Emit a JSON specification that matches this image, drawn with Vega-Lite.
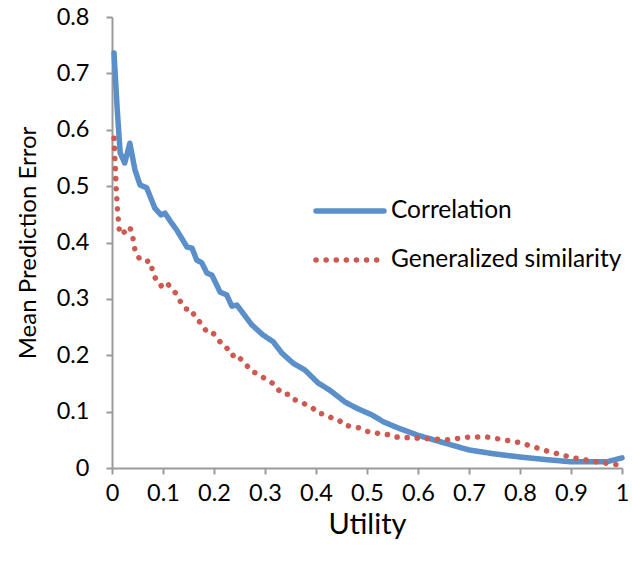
{
  "$schema": "https://vega.github.io/schema/vega-lite/v6.json",
  "width": 510,
  "height": 451,
  "autosize": "none",
  "padding": {"left": 112, "top": 17, "right": 10, "bottom": 95},
  "background": "white",
  "config": {
    "view": {"stroke": null},
    "font": "Lato",
    "axis": {
      "grid": false,
      "domainColor": "#9a9a9a",
      "domainWidth": 2,
      "tickColor": "#9a9a9a",
      "tickWidth": 2,
      "tickSize": 6,
      "labelFont": "Lato",
      "labelFontSize": 23.5,
      "labelColor": "#000000",
      "titleFont": "Lato",
      "titleFontWeight": "normal",
      "titleColor": "#000000",
      "labelFlush": false,
      "labelOverlap": false
    }
  },
  "data": {
    "values": [
      {"series": "Correlation", "u": 0.004, "v": 0.736},
      {"series": "Correlation", "u": 0.010, "v": 0.64},
      {"series": "Correlation", "u": 0.016, "v": 0.559},
      {"series": "Correlation", "u": 0.025, "v": 0.541},
      {"series": "Correlation", "u": 0.035, "v": 0.576},
      {"series": "Correlation", "u": 0.045, "v": 0.529},
      {"series": "Correlation", "u": 0.055, "v": 0.502},
      {"series": "Correlation", "u": 0.068, "v": 0.497},
      {"series": "Correlation", "u": 0.084, "v": 0.461},
      {"series": "Correlation", "u": 0.096, "v": 0.449},
      {"series": "Correlation", "u": 0.104, "v": 0.452},
      {"series": "Correlation", "u": 0.115, "v": 0.437},
      {"series": "Correlation", "u": 0.127, "v": 0.422},
      {"series": "Correlation", "u": 0.147, "v": 0.392},
      {"series": "Correlation", "u": 0.157, "v": 0.390},
      {"series": "Correlation", "u": 0.166, "v": 0.369},
      {"series": "Correlation", "u": 0.176, "v": 0.364},
      {"series": "Correlation", "u": 0.186, "v": 0.346},
      {"series": "Correlation", "u": 0.196, "v": 0.342},
      {"series": "Correlation", "u": 0.212, "v": 0.312},
      {"series": "Correlation", "u": 0.225, "v": 0.307},
      {"series": "Correlation", "u": 0.235, "v": 0.287},
      {"series": "Correlation", "u": 0.245, "v": 0.289},
      {"series": "Correlation", "u": 0.274, "v": 0.254},
      {"series": "Correlation", "u": 0.296, "v": 0.236},
      {"series": "Correlation", "u": 0.316, "v": 0.224},
      {"series": "Correlation", "u": 0.333, "v": 0.204},
      {"series": "Correlation", "u": 0.355, "v": 0.186},
      {"series": "Correlation", "u": 0.378, "v": 0.174},
      {"series": "Correlation", "u": 0.404, "v": 0.151},
      {"series": "Correlation", "u": 0.427, "v": 0.138},
      {"series": "Correlation", "u": 0.457, "v": 0.117},
      {"series": "Correlation", "u": 0.480, "v": 0.106},
      {"series": "Correlation", "u": 0.510, "v": 0.094},
      {"series": "Correlation", "u": 0.532, "v": 0.082},
      {"series": "Correlation", "u": 0.561, "v": 0.071},
      {"series": "Correlation", "u": 0.600, "v": 0.058},
      {"series": "Correlation", "u": 0.650, "v": 0.045},
      {"series": "Correlation", "u": 0.700, "v": 0.032},
      {"series": "Correlation", "u": 0.750, "v": 0.025},
      {"series": "Correlation", "u": 0.800, "v": 0.0195},
      {"series": "Correlation", "u": 0.850, "v": 0.015},
      {"series": "Correlation", "u": 0.900, "v": 0.011},
      {"series": "Correlation", "u": 0.970, "v": 0.011},
      {"series": "Correlation", "u": 1.000, "v": 0.018},
      {"series": "Generalized similarity", "u": 0.004, "v": 0.585},
      {"series": "Generalized similarity", "u": 0.006, "v": 0.541},
      {"series": "Generalized similarity", "u": 0.008, "v": 0.500},
      {"series": "Generalized similarity", "u": 0.011, "v": 0.456},
      {"series": "Generalized similarity", "u": 0.015, "v": 0.415},
      {"series": "Generalized similarity", "u": 0.025, "v": 0.419},
      {"series": "Generalized similarity", "u": 0.035, "v": 0.428},
      {"series": "Generalized similarity", "u": 0.041, "v": 0.408},
      {"series": "Generalized similarity", "u": 0.045, "v": 0.387},
      {"series": "Generalized similarity", "u": 0.055, "v": 0.369},
      {"series": "Generalized similarity", "u": 0.076, "v": 0.366},
      {"series": "Generalized similarity", "u": 0.080, "v": 0.346},
      {"series": "Generalized similarity", "u": 0.086, "v": 0.335},
      {"series": "Generalized similarity", "u": 0.096, "v": 0.323},
      {"series": "Generalized similarity", "u": 0.106, "v": 0.330},
      {"series": "Generalized similarity", "u": 0.116, "v": 0.319},
      {"series": "Generalized similarity", "u": 0.125, "v": 0.310},
      {"series": "Generalized similarity", "u": 0.135, "v": 0.294},
      {"series": "Generalized similarity", "u": 0.145, "v": 0.282},
      {"series": "Generalized similarity", "u": 0.155, "v": 0.282},
      {"series": "Generalized similarity", "u": 0.165, "v": 0.264},
      {"series": "Generalized similarity", "u": 0.175, "v": 0.257},
      {"series": "Generalized similarity", "u": 0.186, "v": 0.241},
      {"series": "Generalized similarity", "u": 0.196, "v": 0.241},
      {"series": "Generalized similarity", "u": 0.206, "v": 0.232},
      {"series": "Generalized similarity", "u": 0.216, "v": 0.218},
      {"series": "Generalized similarity", "u": 0.225, "v": 0.213},
      {"series": "Generalized similarity", "u": 0.235, "v": 0.199},
      {"series": "Generalized similarity", "u": 0.245, "v": 0.202},
      {"series": "Generalized similarity", "u": 0.255, "v": 0.190},
      {"series": "Generalized similarity", "u": 0.265, "v": 0.181},
      {"series": "Generalized similarity", "u": 0.276, "v": 0.170},
      {"series": "Generalized similarity", "u": 0.285, "v": 0.168},
      {"series": "Generalized similarity", "u": 0.296, "v": 0.161},
      {"series": "Generalized similarity", "u": 0.305, "v": 0.155},
      {"series": "Generalized similarity", "u": 0.316, "v": 0.150},
      {"series": "Generalized similarity", "u": 0.325, "v": 0.140},
      {"series": "Generalized similarity", "u": 0.335, "v": 0.131},
      {"series": "Generalized similarity", "u": 0.345, "v": 0.131},
      {"series": "Generalized similarity", "u": 0.355, "v": 0.122},
      {"series": "Generalized similarity", "u": 0.365, "v": 0.119},
      {"series": "Generalized similarity", "u": 0.375, "v": 0.115},
      {"series": "Generalized similarity", "u": 0.385, "v": 0.110},
      {"series": "Generalized similarity", "u": 0.394, "v": 0.106},
      {"series": "Generalized similarity", "u": 0.404, "v": 0.097},
      {"series": "Generalized similarity", "u": 0.414, "v": 0.096},
      {"series": "Generalized similarity", "u": 0.424, "v": 0.092},
      {"series": "Generalized similarity", "u": 0.435, "v": 0.087},
      {"series": "Generalized similarity", "u": 0.445, "v": 0.085},
      {"series": "Generalized similarity", "u": 0.455, "v": 0.076},
      {"series": "Generalized similarity", "u": 0.475, "v": 0.073},
      {"series": "Generalized similarity", "u": 0.485, "v": 0.071},
      {"series": "Generalized similarity", "u": 0.494, "v": 0.067},
      {"series": "Generalized similarity", "u": 0.504, "v": 0.064},
      {"series": "Generalized similarity", "u": 0.514, "v": 0.064},
      {"series": "Generalized similarity", "u": 0.525, "v": 0.060},
      {"series": "Generalized similarity", "u": 0.545, "v": 0.059},
      {"series": "Generalized similarity", "u": 0.557, "v": 0.055},
      {"series": "Generalized similarity", "u": 0.600, "v": 0.053},
      {"series": "Generalized similarity", "u": 0.657, "v": 0.050},
      {"series": "Generalized similarity", "u": 0.700, "v": 0.055},
      {"series": "Generalized similarity", "u": 0.735, "v": 0.055},
      {"series": "Generalized similarity", "u": 0.800, "v": 0.045},
      {"series": "Generalized similarity", "u": 0.853, "v": 0.030},
      {"series": "Generalized similarity", "u": 0.900, "v": 0.019},
      {"series": "Generalized similarity", "u": 0.950, "v": 0.011},
      {"series": "Generalized similarity", "u": 0.996, "v": 0.005}
    ]
  },
  "mark": {"type": "line", "strokeWidth": 5.5, "strokeCap": "round", "strokeJoin": "round"},
  "encoding": {
    "x": {
      "field": "u",
      "type": "quantitative",
      "scale": {"domain": [0, 1], "nice": false, "zero": false},
      "axis": {
        "title": "Utility",
        "titleFontSize": 29,
        "titlePadding": 6,
        "labelPadding": 7,
        "values": [0, 0.1, 0.2, 0.3, 0.4, 0.5, 0.6, 0.7, 0.8, 0.9, 1],
        "format": "~g"
      }
    },
    "y": {
      "field": "v",
      "type": "quantitative",
      "scale": {"domain": [0, 0.8], "nice": false},
      "axis": {
        "title": "Mean Prediction Error",
        "titleFontSize": 24,
        "titlePadding": 16,
        "labelPadding": 17,
        "values": [0, 0.1, 0.2, 0.3, 0.4, 0.5, 0.6, 0.7, 0.8],
        "format": "~g"
      }
    },
    "color": {
      "field": "series",
      "type": "nominal",
      "scale": {"domain": ["Correlation", "Generalized similarity"], "range": ["#5a8fca", "#cd5a50"]},
      "legend": {
        "title": null,
        "orient": "none",
        "legendX": 201,
        "legendY": 157,
        "symbolType": "stroke",
        "symbolSize": 4624,
        "symbolStrokeWidth": 5.5,
        "labelFont": "Lato",
        "labelFontSize": 24.5,
        "labelColor": "#000000",
        "labelLimit": 0,
        "labelOffset": 4,
        "rowPadding": -19,
        "padding": 0,
        "encode": {"symbols": {"update": {"strokeCap": {"value": "round"}}}}
      }
    },
    "strokeDash": {
      "field": "series",
      "type": "nominal",
      "scale": {"domain": ["Correlation", "Generalized similarity"], "range": [[1, 0], [0.1, 10]]},
      "legend": {
        "title": null,
        "orient": "none",
        "legendX": 201,
        "legendY": 157,
        "symbolType": "stroke",
        "symbolSize": 4624,
        "symbolStrokeWidth": 5.5,
        "labelFont": "Lato",
        "labelFontSize": 24.5,
        "labelColor": "#000000",
        "labelLimit": 0,
        "labelOffset": 4,
        "rowPadding": -19,
        "padding": 0,
        "encode": {"symbols": {"update": {"strokeCap": {"value": "round"}}}}
      }
    }
  }
}
